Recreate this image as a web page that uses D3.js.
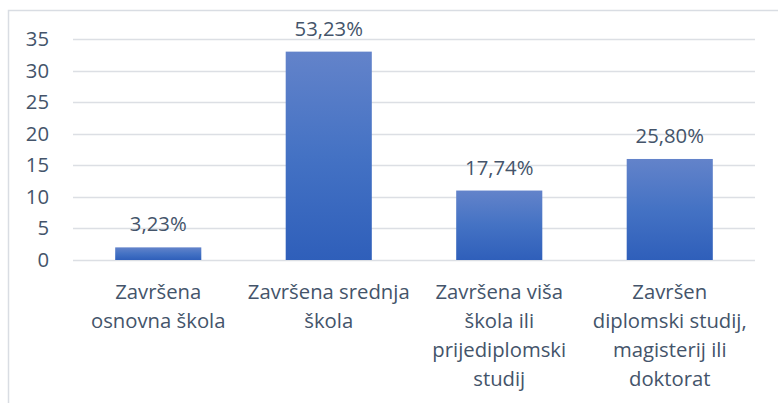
<!DOCTYPE html>
<html>
<head>
<meta charset="utf-8">
<script src="https://cdn.jsdelivr.net/npm/d3@7"></script>
<style>
  body { margin: 0; background: #fff; }
  svg { display: block; font-family: "Open Sans", "Noto Sans", sans-serif; }
</style>
</head>
<body>
<div id="chart"></div>
<script>
// chart values
const categories = [
    ["Završena", "osnovna škola"],
    ["Završena srednja", "škola"],
    ["Završena viša", "škola ili", "prijediplomski", "studij"],
    ["Završen", "diplomski studij,", "magisterij ili", "doktorat"]
];
const counts = [2, 33, 11, 16];
const percentLabels = ["3,23%", "53,23%", "17,74%", "25,80%"];
const yTicks = [0, 5, 10, 15, 20, 25, 30, 35];

const W = 778, H = 403;
const margin = { top: 39, right: 23, bottom: 143, left: 73 };
const width = W - margin.left - margin.right;
const height = H - margin.top - margin.bottom;
const textColor = "#44546a";
const fontSize = "20.3px";

const svg = d3.select("#chart").append("svg")
    .attr("width", W)
    .attr("height", H);

// outer chart border (right/bottom sides are off-canvas)
svg.append("rect")
    .attr("x", 8.5).attr("y", 10.5)
    .attr("width", W + 10).attr("height", H + 10)
    .attr("fill", "none")
    .attr("stroke", "#d9dde3")
    .attr("stroke-width", 1.5);

const grad = svg.append("defs").append("linearGradient")
    .attr("id", "barGrad")
    .attr("x1", 0).attr("y1", 0).attr("x2", 0).attr("y2", 1);
grad.append("stop").attr("offset", "0%").attr("stop-color", "#6383ca");
grad.append("stop").attr("offset", "50%").attr("stop-color", "#4472c4");
grad.append("stop").attr("offset", "100%").attr("stop-color", "#2f5fba");

const g = svg.append("g")
    .attr("transform", `translate(${margin.left},${margin.top})`);

const x = d3.scaleBand()
    .domain(d3.range(counts.length))
    .range([0, width])
    .paddingInner(0.495)
    .paddingOuter(0.2475);

const y = d3.scaleLinear().domain([0, 35]).range([height, 0]);

// gridlines
g.append("g")
    .selectAll("line")
    .data(yTicks)
    .join("line")
    .attr("x1", 0).attr("x2", width)
    .attr("y1", d => Math.round(y(d)) + 0.5)
    .attr("y2", d => Math.round(y(d)) + 0.5)
    .attr("stroke", "#dcdfe4")
    .attr("stroke-width", 1.5);

// y axis labels
const yAxis = g.append("g")
    .attr("transform", "translate(-24,0)")
    .call(d3.axisLeft(y).tickValues(yTicks).tickSize(0).tickPadding(0));
yAxis.select(".domain").remove();
yAxis.selectAll("text")
    .attr("fill", textColor)
    .attr("font-size", fontSize)
    .attr("font-family", "\"Open Sans\", sans-serif");

// bars
g.selectAll(".bar")
    .data(counts)
    .join("rect")
    .attr("class", "bar")
    .attr("x", (d, i) => x(i))
    .attr("y", d => y(d))
    .attr("width", x.bandwidth())
    .attr("height", d => height - y(d))
    .attr("fill", "url(#barGrad)");

// value labels
g.selectAll(".val")
    .data(counts)
    .join("text")
    .attr("class", "val")
    .attr("x", (d, i) => x(i) + x.bandwidth() / 2)
    .attr("y", d => y(d) - 16)
    .attr("text-anchor", "middle")
    .attr("fill", textColor)
    .attr("font-size", fontSize)
    .text((d, i) => percentLabels[i]);

// category labels
const cat = g.selectAll(".cat")
    .data(categories)
    .join("text")
    .attr("class", "cat")
    .attr("x", (d, i) => x(i) + x.bandwidth() / 2)
    .attr("y", height + 39)
    .attr("text-anchor", "middle")
    .attr("fill", textColor)
    .attr("font-size", fontSize);
cat.selectAll("tspan")
    .data(d => d)
    .join("tspan")
    .attr("x", function () { return this.parentNode.getAttribute("x"); })
    .attr("dy", (d, i) => i === 0 ? 0 : 29)
    .text(d => d);
</script>
</body>
</html>
